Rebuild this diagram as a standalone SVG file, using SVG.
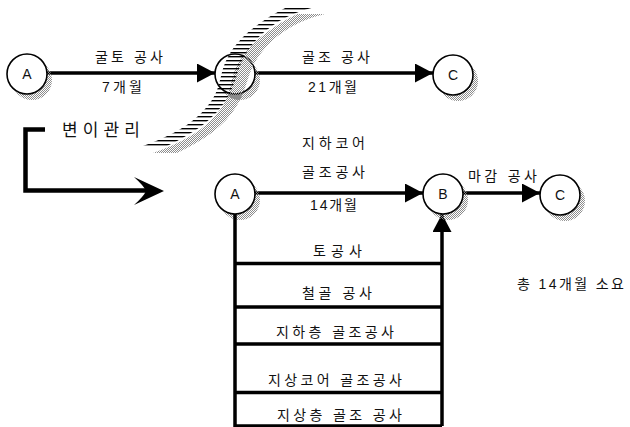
<svg xmlns="http://www.w3.org/2000/svg" width="630" height="427" viewBox="0 0 630 427">
<defs>
  <style>
    .t{font-family:'Liberation Sans','Noto Sans CJK KR',sans-serif;font-size:14px;fill:#111;text-anchor:middle}
    .n{fill:#fff;stroke:#000;stroke-width:1.6}
    .sh{fill:url(#stip)}
    .ln{stroke:#000;stroke-width:3.5;fill:none}
    .bx{stroke:#000;stroke-width:3.5;fill:none}
  </style>
  <pattern id="stip" patternUnits="userSpaceOnUse" width="2" height="2">
    <rect x="0" y="0" width="1" height="1" fill="#8c8c8c"/>
    <rect x="1" y="1" width="1" height="1" fill="#8c8c8c"/>
  </pattern>
  <pattern id="hatch" patternUnits="userSpaceOnUse" width="8" height="4">
    <rect x="0" y="0" width="8" height="1.4" fill="#000"/>
  </pattern>
  <marker id="ah" markerUnits="userSpaceOnUse" viewBox="0 0 18 19" refX="18" refY="9.5" markerWidth="18" markerHeight="19" orient="auto">
    <path d="M0,0 L18,9.5 L0,19 Z" fill="#000"/>
  </marker>
</defs>
<rect width="630" height="427" fill="#fff"/>

<g id="connectors">
  <line class="ln" x1="47" y1="73" x2="215" y2="73" marker-end="url(#ah)"/>
  <line class="ln" x1="255" y1="73" x2="433" y2="73" marker-end="url(#ah)"/>
  <line class="ln" x1="255" y1="193" x2="423" y2="193" marker-end="url(#ah)"/>
  <line class="ln" x1="463" y1="193" x2="540" y2="193" marker-end="url(#ah)"/>
  <line class="ln" x1="442" y1="426" x2="442" y2="214" marker-end="url(#ah)"/>
  <path d="M45,129.5 H25.5 V190.5 H146" stroke="#000" stroke-width="4.5" fill="none"/>
  <path d="M164,191 L134,177 Q144,186 146,191 Q144,196 134,205 Z" fill="#000"/>
</g>

<g id="top-A">
  <circle class="sh" cx="32" cy="80" r="20"/>
  <circle class="n" cx="27" cy="74" r="20"/>
  <text class="t" x="27" y="79">A</text>
</g>
<g id="top-B">
  <circle class="sh" cx="240" cy="80" r="20"/>
  <circle class="n" cx="235" cy="74" r="20"/>
</g>
<g id="top-C">
  <circle class="sh" cx="458" cy="81" r="20"/>
  <circle class="n" cx="453" cy="75" r="20"/>
  <text class="t" x="453" y="80">C</text>
</g>

<g id="variation-band">
  <path class="sh" transform="translate(10,7)" d="M287,7 C265,18 240,35 229,55 C219,72 222,85 212,100 C200,118 180,133 143,146 L167,146 C195,133 215,118 226,100 C236,85 236,72 244,57 C256,35 280,15 315,7 Z"/>
  <path fill="url(#hatch)" d="M287,7 C265,18 240,35 229,55 C219,72 222,85 212,100 C200,118 180,133 143,146 L167,146 C195,133 215,118 226,100 C236,85 236,72 244,57 C256,35 280,15 315,7 Z"/>
</g>

<g id="top-labels">
  <text class="t" x="129" y="62" textLength="68" lengthAdjust="spacing">굴토 공사</text>
  <text class="t" x="122" y="92" textLength="40" lengthAdjust="spacing">7개월</text>
  <text class="t" x="336" y="62" textLength="68" lengthAdjust="spacing">골조 공사</text>
  <text class="t" x="332.5" y="92" textLength="49" lengthAdjust="spacing">21개월</text>
</g>

<g id="variation-label">
  <text class="t" x="101" y="136" style="font-size:17px" textLength="78" lengthAdjust="spacing">변이관리</text>
</g>

<g id="bot-A">
  <circle class="sh" cx="240" cy="200" r="20"/>
  <circle class="n" cx="235" cy="194" r="20"/>
  <text class="t" x="235" y="199">A</text>
</g>
<g id="bot-B">
  <circle class="sh" cx="448" cy="200" r="20"/>
  <circle class="n" cx="443" cy="194" r="20"/>
  <text class="t" x="443" y="199">B</text>
</g>
<g id="bot-C">
  <circle class="sh" cx="565" cy="201" r="20"/>
  <circle class="n" cx="560" cy="195" r="20"/>
  <text class="t" x="560" y="200">C</text>
</g>

<g id="bottom-labels">
  <text class="t" x="333.5" y="148" textLength="63" lengthAdjust="spacing">지하코어</text>
  <text class="t" x="333.5" y="177" textLength="63" lengthAdjust="spacing">골조공사</text>
  <text class="t" x="333.5" y="210" textLength="47" lengthAdjust="spacing">14개월</text>
  <text class="t" x="502.5" y="181" textLength="69" lengthAdjust="spacing">마감 공사</text>
  <text class="t" x="570.5" y="289" textLength="107" lengthAdjust="spacing">총 14개월 소요</text>
</g>

<g id="activities">
  <path class="bx" d="M235,214 V426 H442"/>
  <line class="bx" x1="235" y1="263.5" x2="442" y2="263.5"/>
  <line class="bx" x1="235" y1="307" x2="442" y2="307"/>
  <line class="bx" x1="235" y1="344" x2="442" y2="344"/>
  <line class="bx" x1="235" y1="392.5" x2="442" y2="392.5"/>
  <text class="t" x="337.5" y="256" textLength="49" lengthAdjust="spacing">토공사</text>
  <text class="t" x="337" y="298" textLength="70" lengthAdjust="spacing">철골 공사</text>
  <text class="t" x="335" y="337" textLength="118" lengthAdjust="spacing">지하층 골조공사</text>
  <text class="t" x="335" y="385" textLength="134" lengthAdjust="spacing">지상코어 골조공사</text>
  <text class="t" x="339.5" y="420" textLength="125" lengthAdjust="spacing">지상층 골조 공사</text>
</g>
</svg>
